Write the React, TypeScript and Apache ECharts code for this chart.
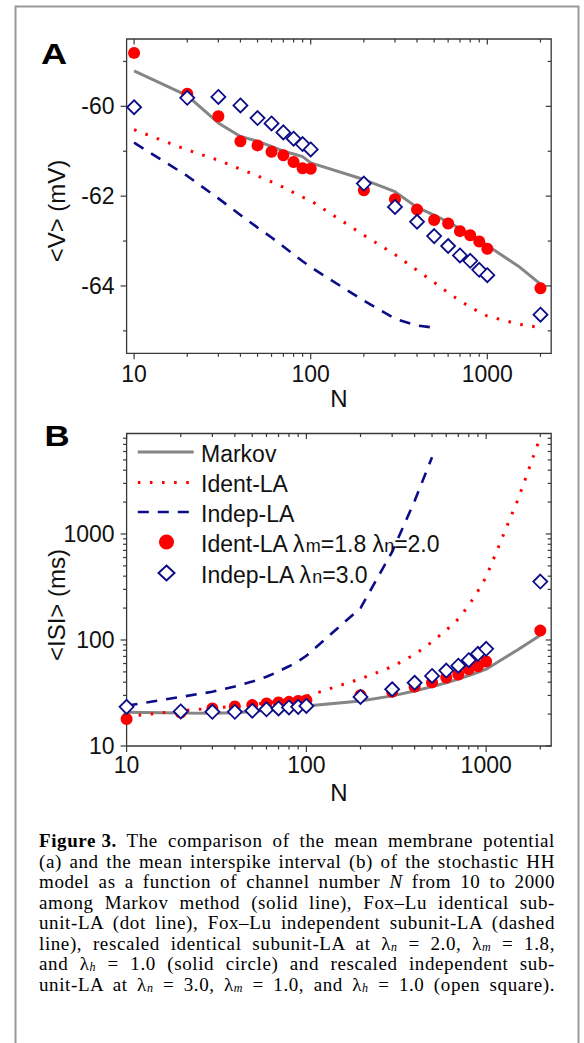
import React, { useEffect, useRef } from 'react';
import * as echarts from 'echarts';

// ---------------- data ----------------
const markerN = [10, 20, 30, 40, 50, 60, 70, 80, 90, 100, 200, 300, 400, 500, 600, 700, 800, 900, 1000, 2000];
const lineN = [10, 20, 30, 40, 50, 60, 70, 80, 90, 100, 200, 300, 400, 500, 600, 700, 800, 900, 1000, 1500, 2000];
const indepLineN = [10, 20, 30, 40, 50, 60, 70, 80, 90, 100, 200, 300, 400, 500];

// Panel A: <V> (mV)
const vMarkov = [-59.21, -59.76, -60.37, -60.67, -60.78, -60.89, -61.0, -61.06, -61.12, -61.26, -61.63, -61.9, -62.25, -62.42, -62.58, -62.72, -62.85, -62.97, -63.1, -63.56, -63.96];
const vIdentLA = [-60.52, -60.97, -61.2, -61.4, -61.55, -61.68, -61.8, -61.92, -62.02, -62.1, -62.87, -63.3, -63.65, -63.92, -64.15, -64.33, -64.47, -64.58, -64.67, -64.85, -64.93];
const vIndepLA = [-60.81, -61.55, -62.05, -62.42, -62.7, -62.92, -63.12, -63.3, -63.45, -63.58, -64.33, -64.73, -64.88, -64.93];
const vIdentScaled = [-58.81, -59.72, -60.22, -60.78, -60.87, -61.01, -61.09, -61.24, -61.38, -61.39, -61.87, -62.07, -62.3, -62.53, -62.61, -62.78, -62.87, -63.01, -63.17, -64.05];
const vIndepScaled = [-60.02, -59.81, -59.79, -59.98, -60.26, -60.38, -60.58, -60.72, -60.84, -60.96, -61.72, -62.24, -62.57, -62.89, -63.11, -63.32, -63.44, -63.64, -63.76, -64.64];

// Panel B: <ISI> (ms)
const isiMarkov = [20.8, 20.5, 20.4, 20.6, 21.2, 21.7, 22.1, 22.6, 23.2, 23.9, 26.6, 29.7, 33, 36.3, 39.5, 42.8, 46.2, 49.5, 53, 81, 111];
const isiIdentLA = [19, 21.5, 22.7, 23.7, 24.6, 25.5, 26.4, 27.3, 28.3, 29.5, 43, 56, 73, 96, 124, 158, 212, 290, 395, 2100, 8200];
const isiIndepLA = [24, 29, 32.5, 36.5, 40.5, 45, 50.5, 56.5, 63, 71, 200, 680, 2050, 5300];
const isiIdentScaled = [18, 20.7, 22.6, 23.6, 24.3, 25.2, 25.7, 26.1, 26.6, 27, 30.1, 32.5, 36.3, 39.8, 44.3, 47.2, 53, 56.4, 62.7, 122.7];
const isiIndepScaled = [23.4, 21.2, 21, 21, 21.5, 22.2, 22.6, 23.1, 23.4, 23.9, 29, 34.3, 39.5, 45.8, 51.5, 57.2, 64.5, 74, 82.5, 356];

// ticks / labels
const xLabelValues = [10, 100, 1000];
const xMinorTicks = [20, 30, 40, 50, 60, 70, 80, 90, 200, 300, 400, 500, 600, 700, 800, 900, 2000];
const vLabelValues = [-64, -62, -60];
const vMinorTicks = [-65, -63, -61, -59];
const isiLabelValues = [10, 100, 1000];
const isiMinorTicks = [20, 30, 40, 50, 60, 70, 80, 90, 200, 300, 400, 500, 600, 700, 800, 900, 2000, 3000, 4000, 5000, 6000, 7000, 8000];

const seriesNames = ['Markov', 'Ident-LA', 'Indep-LA', 'Ident-LA λm=1.8 λn=2.0', 'Indep-LA λn=3.0'];

// ---------------- styles ----------------
const FONT = '"Liberation Sans", Arial, Helvetica, sans-serif';
const GRAY = '#858585';
const RED = '#ff0000';
const NAVY = '#0c0c88';
const AXIS = '#383838';
const TEXT = '#111111';

const GRID_A = { left: 126.6, top: 39, width: 424.6, height: 314.3 };
const GRID_B = { left: 126.6, top: 433.5, width: 424.6, height: 312.5 };

const DOTTED = [2.6, 9.5];
const DASHED = [11, 9];

const pair = (xs: number[], ys: number[]) => xs.map((x, i) => [x, ys[i]]);

const makeFormatter = (vals: number[]) => (v: number) => {
  for (const t of vals) {
    if (Math.abs(v - t) < 1e-6 * Math.max(1, Math.abs(t))) return String(t);
  }
  return '';
};

const gridStyle = { show: true, borderColor: AXIS, borderWidth: 1.3, backgroundColor: 'transparent', outerBoundsMode: 'none', containLabel: false };
const labelStyle = { fontSize: 23, color: TEXT, fontFamily: FONT, interval: 0, showMinLabel: true, showMaxLabel: true };

function buildOption(): any {
  const xAxisCommon = (gridIndex: number, min: number, margin: number, nameGap: number) => ({
    type: 'log',
    logBase: 10,
    gridIndex,
    min,
    max: 2300,
    axisLine: { show: false },
    axisTick: { show: false },
    minorTick: { show: false },
    splitLine: { show: false },
    minorSplitLine: { show: false },
    axisLabel: { ...labelStyle, margin, formatter: makeFormatter(xLabelValues) },
    name: 'N',
    nameLocation: 'middle',
    nameGap,
    nameTextStyle: { fontSize: 24, color: TEXT, fontFamily: FONT },
  });

  const series: any[] = [];
  const panels = [
    { idx: 0, markov: vMarkov, ident: vIdentLA, indep: vIndepLA, identS: vIdentScaled, indepS: vIndepScaled },
    { idx: 1, markov: isiMarkov, ident: isiIdentLA, indep: isiIndepLA, identS: isiIdentScaled, indepS: isiIndepScaled },
  ];
  for (const p of panels) {
    series.push({
      name: seriesNames[0], type: 'line', xAxisIndex: p.idx, yAxisIndex: p.idx, symbol: 'none', z: 2,
      lineStyle: { color: GRAY, width: 3 }, itemStyle: { color: GRAY },
      data: pair(lineN, p.markov),
    });
    series.push({
      name: seriesNames[1], type: 'line', xAxisIndex: p.idx, yAxisIndex: p.idx, symbol: 'none', z: 2,
      lineStyle: { color: RED, width: 3, type: DOTTED }, itemStyle: { color: RED },
      data: pair(lineN, p.ident),
    });
    series.push({
      name: seriesNames[2], type: 'line', xAxisIndex: p.idx, yAxisIndex: p.idx, symbol: 'none', z: 2,
      lineStyle: { color: NAVY, width: 2.6, type: DASHED }, itemStyle: { color: NAVY },
      data: pair(indepLineN, p.indep),
    });
    series.push({
      name: seriesNames[3], type: 'scatter', xAxisIndex: p.idx, yAxisIndex: p.idx, symbol: 'circle', symbolSize: 12, z: 3,
      itemStyle: { color: RED, opacity: 1 },
      data: pair(markerN, p.identS),
    });
    series.push({
      name: seriesNames[4], type: 'scatter', xAxisIndex: p.idx, yAxisIndex: p.idx, symbol: 'diamond', symbolSize: [14, 14], z: 4,
      itemStyle: { color: '#ffffff', borderColor: NAVY, borderWidth: 1.8, opacity: 1 },
      data: pair(markerN, p.indepS),
    });
  }

  return {
    animation: false,
    backgroundColor: '#ffffff',
    textStyle: { fontFamily: FONT },
    grid: [
      { ...gridStyle, ...GRID_A },
      { ...gridStyle, ...GRID_B },
    ],
    xAxis: [xAxisCommon(0, 9.07, 9, 32), xAxisCommon(1, 10, 7, 34)],
    yAxis: [
      {
        type: 'value', gridIndex: 0, min: -65.5, max: -58.5,
        axisLine: { show: false }, axisTick: { show: false }, splitLine: { show: false },
        axisLabel: { ...labelStyle, margin: 12, formatter: makeFormatter(vLabelValues) },
      },
      {
        type: 'log', logBase: 10, gridIndex: 1, min: 10, max: 8870,
        axisLine: { show: false }, axisTick: { show: false }, splitLine: { show: false }, minorTick: { show: false },
        axisLabel: { ...labelStyle, margin: 12, formatter: makeFormatter(isiLabelValues) },
      },
    ],
    series,
  };
}

// tick marks placed through the chart's own scales (convertToPixel)
function buildTickGraphics(chart: any): any[] {
  const out: any[] = [];
  const style = { stroke: AXIS, lineWidth: 1.2 };
  const addX = (gridIndex: number, g: any, vals: number[], yRef: number, major: boolean) => {
    const outLen = major ? 6 : 3.5;
    const inLen = major ? 5.5 : 3.5;
    const yb = g.top + g.height;
    const yt = g.top;
    for (const v of vals) {
      const px = chart.convertToPixel({ gridIndex }, [v, yRef]);
      if (!px) continue;
      const x = px[0];
      out.push({ type: 'line', silent: true, z: 5, shape: { x1: x, y1: yb, x2: x, y2: yb + outLen }, style });
      out.push({ type: 'line', silent: true, z: 5, shape: { x1: x, y1: yt, x2: x, y2: yt + inLen }, style });
    }
  };
  const addY = (gridIndex: number, g: any, vals: number[], xRef: number, major: boolean) => {
    const outLen = major ? 6 : 3.5;
    const inLen = major ? 5.5 : 3.5;
    const xl = g.left;
    const xr = g.left + g.width;
    for (const v of vals) {
      const px = chart.convertToPixel({ gridIndex }, [xRef, v]);
      if (!px) continue;
      const y = px[1];
      out.push({ type: 'line', silent: true, z: 5, shape: { x1: xl - outLen, y1: y, x2: xl, y2: y }, style });
      out.push({ type: 'line', silent: true, z: 5, shape: { x1: xr - inLen, y1: y, x2: xr, y2: y }, style });
    }
  };
  addX(0, GRID_A, xLabelValues, -62, true);
  addX(0, GRID_A, xMinorTicks, -62, false);
  addY(0, GRID_A, vLabelValues, 100, true);
  addY(0, GRID_A, vMinorTicks, 100, false);
  addX(1, GRID_B, xLabelValues, 100, true);
  addX(1, GRID_B, xMinorTicks, 100, false);
  addY(1, GRID_B, isiLabelValues, 100, true);
  addY(1, GRID_B, isiMinorTicks, 100, false);
  return out;
}

function buildStaticGraphics(): any[] {
  const g: any[] = [
    { type: 'rect', silent: true, z: 0, shape: { x: 15.5, y: 6.5, width: 563, height: 1100 }, style: { fill: 'none', stroke: '#9a9a9a', lineWidth: 2 } },
    { type: 'text', x: 41, y: 53.5, scaleX: 1.25, style: { text: 'A', fontSize: 29, fontWeight: 'bold', fontFamily: FONT, fill: '#000', align: 'left', verticalAlign: 'middle' } },
    { type: 'text', x: 44.5, y: 436.5, scaleX: 1.2, style: { text: 'B', fontSize: 29, fontWeight: 'bold', fontFamily: FONT, fill: '#000', align: 'left', verticalAlign: 'middle' } },
    { type: 'text', x: 56, y: 211, rotation: Math.PI / 2, style: { text: '<V> (mV)', fontSize: 24, fontFamily: FONT, fill: TEXT, align: 'center', verticalAlign: 'middle' } },
    { type: 'text', x: 56, y: 605, rotation: Math.PI / 2, style: { text: '<ISI> (ms)', fontSize: 24, fontFamily: FONT, fill: TEXT, align: 'center', verticalAlign: 'middle' } },
  ];
  // legend (panel B)
  const lx0 = 137.8;
  const lx1 = 193.7;
  const cx = 166.5;
  const tx = 201;
  const rowY = [452, 482.5, 512, 542, 573];
  const rich = {
    t: { fontSize: 23, fill: TEXT, fontFamily: FONT, lineHeight: 26, verticalAlign: 'bottom' },
    s: { fontSize: 18, fill: TEXT, fontFamily: FONT, lineHeight: 20, verticalAlign: 'bottom' },
  };
  const texts = [
    '{t|Markov}',
    '{t|Ident-LA}',
    '{t|Indep-LA}',
    '{t|Ident-LA λ}{s|m}{t|=1.8 λ}{s|n}{t|=2.0}',
    '{t|Indep-LA λ}{s|n}{t|=3.0}',
  ];
  g.push({ type: 'line', silent: true, z: 6, shape: { x1: lx0, y1: rowY[0], x2: lx1, y2: rowY[0] }, style: { stroke: GRAY, lineWidth: 3 } });
  g.push({ type: 'line', silent: true, z: 6, shape: { x1: lx0, y1: rowY[1], x2: lx1, y2: rowY[1] }, style: { stroke: RED, lineWidth: 3, lineDash: DOTTED } });
  g.push({ type: 'line', silent: true, z: 6, shape: { x1: lx0, y1: rowY[2], x2: lx1, y2: rowY[2] }, style: { stroke: NAVY, lineWidth: 2.6, lineDash: DASHED } });
  g.push({ type: 'circle', silent: true, z: 6, shape: { cx, cy: rowY[3], r: 7.5 }, style: { fill: RED } });
  g.push({
    type: 'polygon', silent: true, z: 6,
    shape: { points: [[cx, rowY[4] - 7.5], [cx + 8, rowY[4]], [cx, rowY[4] + 7.5], [cx - 8, rowY[4]]] },
    style: { fill: '#fff', stroke: NAVY, lineWidth: 2 },
  });
  texts.forEach((t, i) => {
    g.push({ type: 'text', silent: true, z: 6, x: tx, y: rowY[i], style: { text: t, rich, fontSize: 23, fontFamily: FONT, fill: TEXT, align: 'left', verticalAlign: 'middle' } });
  });
  return g;
}

const lineStyle: React.CSSProperties = {
  textAlign: 'justify',
  textAlignLast: 'justify' as any,
  whiteSpace: 'nowrap',
  height: 20.5,
};

// compact inline boxes so that emphasised words and subscripts stay inside their own line
const compact: React.CSSProperties = { display: 'inline-block', height: 16, lineHeight: '16px', verticalAlign: 'baseline' };

const Sub = ({ c }: { c: string }) => (
  <span style={{ display: 'inline-block', fontSize: 12, fontStyle: 'italic', height: 10, lineHeight: '10px', verticalAlign: '-1px' }}>{c}</span>
);

export default function App() {
  const ref = useRef<HTMLDivElement>(null);
  useEffect(() => {
    if (!ref.current) return;
    const chart = echarts.init(ref.current, null, { renderer: 'svg' });
    chart.setOption(buildOption());
    const graphics = [...buildStaticGraphics(), ...buildTickGraphics(chart)];
    chart.setOption({ graphic: graphics });
    return () => chart.dispose();
  }, []);
  return (
    <div style={{ position: 'absolute', left: 0, top: 0, width: 584, height: 1043, background: '#fff', overflow: 'hidden' }}>
      <div ref={ref} style={{ position: 'absolute', left: 0, top: 0, width: 584, height: 1043 }} />
      <div
        style={{
          position: 'absolute', left: 39, top: 831, width: 516,
          fontFamily: '"Liberation Serif", "Times New Roman", serif', fontSize: 19, letterSpacing: '0.6px', lineHeight: '20.5px', color: '#000',
        }}
      >
        <div style={lineStyle}><b style={compact}>Figure 3.</b> The comparison of the mean membrane potential</div>
        <div style={lineStyle}>(a) and the mean interspike interval (b) of the stochastic HH</div>
        <div style={lineStyle}>model as a function of channel number <i style={compact}>N</i> from 10 to 2000</div>
        <div style={lineStyle}>among Markov method (solid line), Fox–Lu identical sub-</div>
        <div style={lineStyle}>unit-LA (dot line), Fox–Lu independent subunit-LA (dashed</div>
        <div style={lineStyle}>line), rescaled identical subunit-LA at λ<Sub c="n" /> = 2.0, λ<Sub c="m" /> = 1.8,</div>
        <div style={lineStyle}>and λ<Sub c="h" /> = 1.0 (solid circle) and rescaled independent sub-</div>
        <div style={lineStyle}>unit-LA at λ<Sub c="n" /> = 3.0, λ<Sub c="m" /> = 1.0, and λ<Sub c="h" /> = 1.0 (open square).</div>
      </div>
    </div>
  );
}
